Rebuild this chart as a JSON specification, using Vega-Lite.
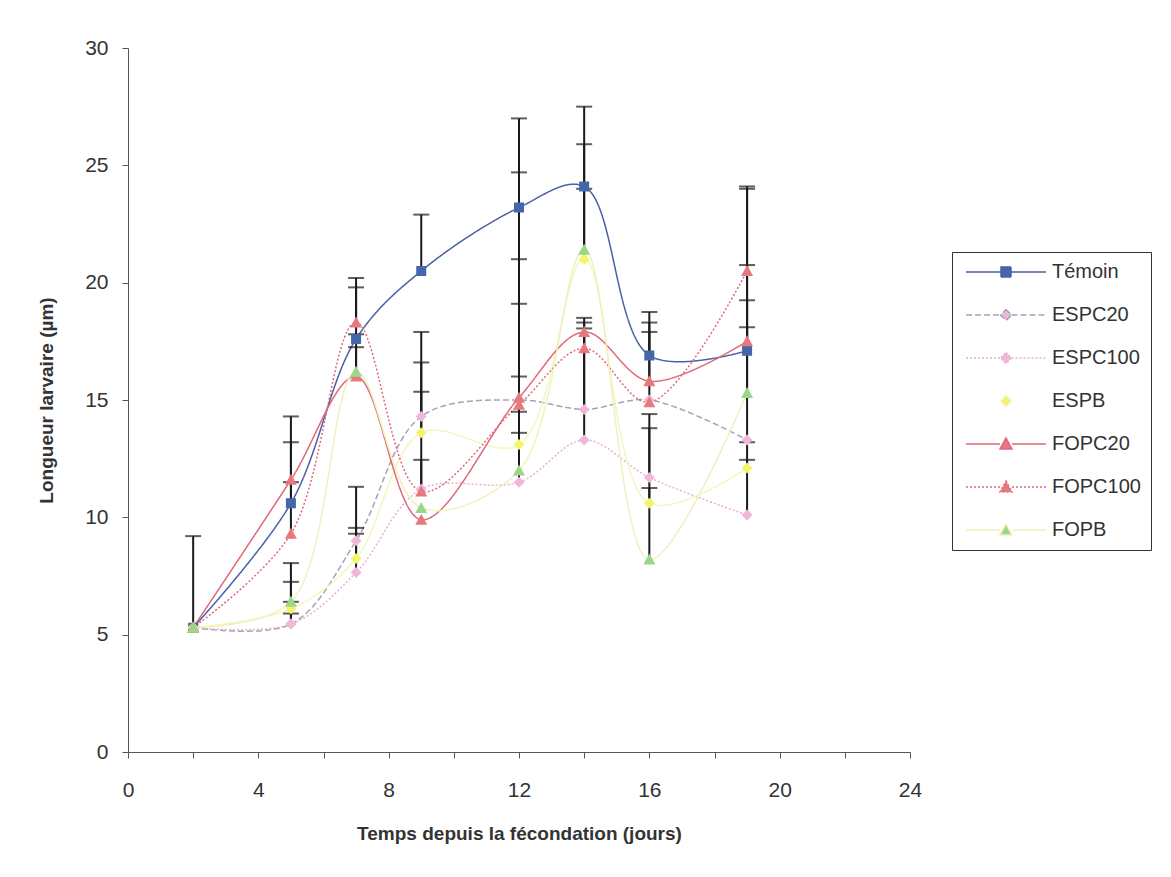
{
  "$schema": "https://vega.github.io/schema/vega-lite/v6.json",
  "width": 782,
  "height": 704,
  "autosize": {"type": "none"},
  "padding": {"left": 128, "top": 48, "right": 261, "bottom": 125},
  "background": "white",
  "config": {"view": {"stroke": null}, "font": "Liberation Sans"},
  "data": {"values": [
    {"serie": "Témoin", "jour": 2, "longueur": 5.3, "sup": 9.2},
    {"serie": "Témoin", "jour": 5, "longueur": 10.6, "sup": 14.3},
    {"serie": "Témoin", "jour": 7, "longueur": 17.6, "sup": 19.8},
    {"serie": "Témoin", "jour": 9, "longueur": 20.5, "sup": 22.9},
    {"serie": "Témoin", "jour": 12, "longueur": 23.2, "sup": 27.0},
    {"serie": "Témoin", "jour": 14, "longueur": 24.1, "sup": 27.5},
    {"serie": "Témoin", "jour": 16, "longueur": 16.9, "sup": 18.75},
    {"serie": "Témoin", "jour": 19, "longueur": 17.1, "sup": 24.1},
    {"serie": "ESPC20", "jour": 2, "longueur": 5.3, "sup": null},
    {"serie": "ESPC20", "jour": 5, "longueur": 5.45, "sup": 6.4},
    {"serie": "ESPC20", "jour": 7, "longueur": 9.0, "sup": 11.3},
    {"serie": "ESPC20", "jour": 9, "longueur": 14.3, "sup": 17.9},
    {"serie": "ESPC20", "jour": 12, "longueur": 15.0, "sup": 19.1},
    {"serie": "ESPC20", "jour": 14, "longueur": 14.6, "sup": 18.3},
    {"serie": "ESPC20", "jour": 16, "longueur": 15.0, "sup": null},
    {"serie": "ESPC20", "jour": 19, "longueur": 13.3, "sup": 18.1},
    {"serie": "ESPC100", "jour": 2, "longueur": 5.3, "sup": null},
    {"serie": "ESPC100", "jour": 5, "longueur": 5.45, "sup": 5.9},
    {"serie": "ESPC100", "jour": 7, "longueur": 7.65, "sup": 9.3},
    {"serie": "ESPC100", "jour": 9, "longueur": 11.2, "sup": 12.45},
    {"serie": "ESPC100", "jour": 12, "longueur": 11.5, "sup": 13.6},
    {"serie": "ESPC100", "jour": 14, "longueur": 13.3, "sup": 18.05},
    {"serie": "ESPC100", "jour": 16, "longueur": 11.7, "sup": 14.4},
    {"serie": "ESPC100", "jour": 19, "longueur": 10.1, "sup": 12.45},
    {"serie": "ESPB", "jour": 2, "longueur": 5.3, "sup": null},
    {"serie": "ESPB", "jour": 5, "longueur": 6.1, "sup": 7.25},
    {"serie": "ESPB", "jour": 7, "longueur": 8.25, "sup": 9.55},
    {"serie": "ESPB", "jour": 9, "longueur": 13.6, "sup": 16.6},
    {"serie": "ESPB", "jour": 12, "longueur": 13.1, "sup": 16.0},
    {"serie": "ESPB", "jour": 14, "longueur": 21.0, "sup": 24.0},
    {"serie": "ESPB", "jour": 16, "longueur": 10.6, "sup": 13.8},
    {"serie": "ESPB", "jour": 19, "longueur": 12.1, "sup": 13.2},
    {"serie": "FOPC20", "jour": 2, "longueur": 5.3, "sup": null},
    {"serie": "FOPC20", "jour": 5, "longueur": 11.6, "sup": 13.2},
    {"serie": "FOPC20", "jour": 7, "longueur": 16.0, "sup": 17.25},
    {"serie": "FOPC20", "jour": 9, "longueur": 9.9, "sup": null},
    {"serie": "FOPC20", "jour": 12, "longueur": 15.1, "sup": 24.7},
    {"serie": "FOPC20", "jour": 14, "longueur": 17.9, "sup": null},
    {"serie": "FOPC20", "jour": 16, "longueur": 15.8, "sup": 18.3},
    {"serie": "FOPC20", "jour": 19, "longueur": 17.5, "sup": 24.0},
    {"serie": "FOPC100", "jour": 2, "longueur": 5.3, "sup": null},
    {"serie": "FOPC100", "jour": 5, "longueur": 9.3, "sup": 11.5},
    {"serie": "FOPC100", "jour": 7, "longueur": 18.3, "sup": 20.2},
    {"serie": "FOPC100", "jour": 9, "longueur": 11.1, "sup": 15.35},
    {"serie": "FOPC100", "jour": 12, "longueur": 14.8, "sup": 21.0},
    {"serie": "FOPC100", "jour": 14, "longueur": 17.2, "sup": 18.5},
    {"serie": "FOPC100", "jour": 16, "longueur": 14.9, "sup": 17.9},
    {"serie": "FOPC100", "jour": 19, "longueur": 20.5, "sup": 20.75},
    {"serie": "FOPB", "jour": 2, "longueur": 5.3, "sup": null},
    {"serie": "FOPB", "jour": 5, "longueur": 6.4, "sup": 8.05},
    {"serie": "FOPB", "jour": 7, "longueur": 16.2, "sup": 17.8},
    {"serie": "FOPB", "jour": 9, "longueur": 10.4, "sup": null},
    {"serie": "FOPB", "jour": 12, "longueur": 12.0, "sup": 14.5},
    {"serie": "FOPB", "jour": 14, "longueur": 21.4, "sup": 25.9},
    {"serie": "FOPB", "jour": 16, "longueur": 8.2, "sup": 11.25},
    {"serie": "FOPB", "jour": 19, "longueur": 15.3, "sup": 19.25}
  ]},
  "encoding": {
    "x": {
      "field": "jour", "type": "quantitative",
      "scale": {"domain": [0, 24], "nice": false},
      "axis": {
        "title": "Temps depuis la fécondation (jours)",
        "values": [0, 2, 4, 6, 8, 10, 12, 14, 16, 18, 20, 22, 24],
        "labelExpr": "datum.value % 4 === 0 ? datum.label : ''",
        "grid": false, "domainColor": "#555", "tickColor": "#555", "tickSize": 6,
        "labelFontSize": 21, "labelColor": "#333", "labelPadding": 21, "labelFlush": false, "labelOverlap": false,
        "titleFontSize": 19, "titleFontWeight": "bold", "titleColor": "#333", "titlePadding": 24
      }
    },
    "y": {
      "field": "longueur", "type": "quantitative",
      "scale": {"domain": [0, 30], "nice": false},
      "axis": {
        "title": "Longueur larvaire (µm)",
        "values": [0, 5, 10, 15, 20, 25, 30],
        "grid": false, "domainColor": "#555", "tickColor": "#555", "tickSize": 6,
        "labelFontSize": 21, "labelColor": "#333", "labelPadding": 14,
        "titleFontSize": 19, "titleFontWeight": "bold", "titleColor": "#333", "titlePadding": 28
      }
    }
  },
  "layer": [
    {
      "mark": {"type": "line", "interpolate": "catmull-rom", "strokeWidth": 1.5},
      "encoding": {
        "stroke": {
          "field": "serie", "type": "nominal",
          "scale": {"domain": ["Témoin", "ESPC20", "ESPC100", "ESPB", "FOPC20", "FOPC100", "FOPB"],
                    "range": ["#4A5FA8", "#A8A0B8", "#E8B0D0", "#F5F5C0", "#E06878", "#E06878", "#EEF2BC"]},
          "legend": {"orient": "none", "legendX": 824, "legendY": 204, "title": null, "strokeColor": "#333", "padding": 10,
                     "symbolOffset": 34, "labelOffset": 36, "labelFontSize": 20, "labelColor": "#333", "rowPadding": 23, "symbolSize": 100,
                     "encode": {"symbols": {"update": {"strokeWidth": {"value": 1.5}}}}}
        },
        "strokeDash": {
          "field": "serie", "type": "nominal",
          "scale": {"domain": ["Témoin", "ESPC20", "ESPC100", "ESPB", "FOPC20", "FOPC100", "FOPB"],
                    "range": [[1, 0], [6, 3], [2, 2], [1, 0], [1, 0], [2, 2], [1, 0]]},
          "legend": {"orient": "none", "legendX": 824, "legendY": 204, "title": null, "strokeColor": "#333", "padding": 10,
                     "symbolOffset": 34, "labelOffset": 36, "labelFontSize": 20, "labelColor": "#333", "rowPadding": 23, "symbolSize": 100}
        }
      }
    },
    {
      "transform": [{"filter": "datum.sup != null"}],
      "mark": {"type": "rule", "color": "#1a1a1a", "strokeWidth": 2},
      "encoding": {"y2": {"field": "sup"}}
    },
    {
      "transform": [{"filter": "datum.sup != null"}],
      "mark": {"type": "tick", "orient": "horizontal", "size": 16, "thickness": 2, "color": "#1a1a1a"},
      "encoding": {"y": {"field": "sup", "type": "quantitative"}}
    },
    {
      "mark": {"type": "point", "filled": true, "size": 100, "opacity": 1},
      "encoding": {
        "fill": {
          "field": "serie", "type": "nominal",
          "scale": {"domain": ["Témoin", "ESPC20", "ESPC100", "ESPB", "FOPC20", "FOPC100", "FOPB"],
                    "range": ["#4466AA", "#F0B8D8", "#F0B8D8", "#F4F46A", "#E87880", "#E87880", "#98D888"]},
          "legend": {"orient": "none", "legendX": 824, "legendY": 204, "title": null, "strokeColor": "#333", "padding": 10,
                     "symbolOffset": 34, "labelOffset": 36, "labelFontSize": 20, "labelColor": "#333", "rowPadding": 23, "symbolSize": 100}
        },
        "shape": {
          "field": "serie", "type": "nominal",
          "scale": {"domain": ["Témoin", "ESPC20", "ESPC100", "ESPB", "FOPC20", "FOPC100", "FOPB"],
                    "range": [
                      "M-8,0H-1M1,0H8M-1,-1H1V1H-1Z",
                      "M-8,0H-1.1M1.1,0H8M0,-1.1L1.1,0L0,1.1L-1.1,0Z",
                      "M-8,0H-1.1M1.1,0H8M0,-1.1L1.1,0L0,1.1L-1.1,0Z",
                      "M0,-1.1L1.1,0L0,1.1L-1.1,0Z",
                      "M-8,0H-1.2M1.2,0H8M0,-1.2L1.2,1H-1.2Z",
                      "M-8,0H-1.2M1.2,0H8M0,-1.2L1.2,1H-1.2Z",
                      "M-8,0H-1.2M1.2,0H8M0,-1.2L1.2,1H-1.2Z"
                    ]},
          "legend": {"orient": "none", "legendX": 824, "legendY": 204, "title": null, "strokeColor": "#333", "padding": 10,
                     "symbolOffset": 34, "labelOffset": 36, "labelFontSize": 20, "labelColor": "#333", "rowPadding": 23, "symbolSize": 100}
        }
      }
    }
  ]
}
